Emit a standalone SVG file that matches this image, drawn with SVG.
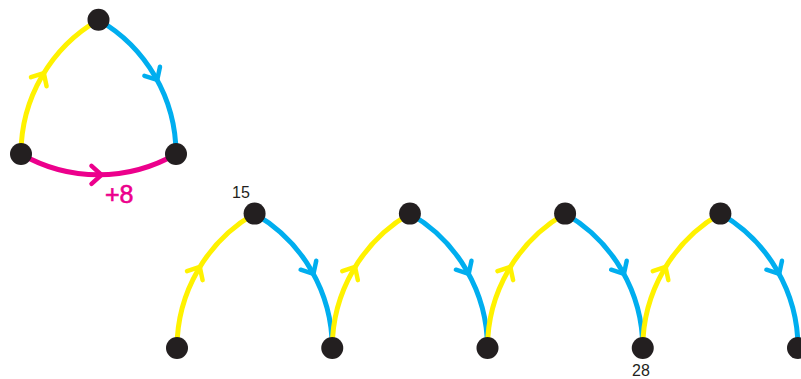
<svg xmlns="http://www.w3.org/2000/svg" width="801" height="379" viewBox="0 0 801 379">
  <style>
    .edge { fill: none; stroke-width: 5; stroke-linecap: butt; }
    .y { stroke: #FFF200; marker-mid: url(#chev-y); }
    .b { stroke: #00AEEF; marker-mid: url(#chev-b); }
    .m { stroke: #EC008C; marker-mid: url(#chev-m); }
    .node { fill: #231F20; }
    .num { font-family: "Liberation Sans", Arial, sans-serif; fill: #231F20; font-size: 16px; text-anchor: middle; }
    .gain { font-family: "Liberation Sans", Arial, sans-serif; fill: #EC008C; stroke: #EC008C; stroke-width: 0.6; font-size: 25px; }
  </style>
  <defs>
    <marker id="chev-y" markerUnits="userSpaceOnUse" markerWidth="30" markerHeight="30" viewBox="-15 -15 30 30" refX="-3" refY="0" orient="auto" overflow="visible">
      <path d="M -9 -9 L 1 0 L -9 9" fill="none" stroke="#FFF200" stroke-width="4.5" stroke-linecap="round" stroke-linejoin="round"/>
    </marker>
    <marker id="chev-b" markerUnits="userSpaceOnUse" markerWidth="30" markerHeight="30" viewBox="-15 -15 30 30" refX="-3" refY="0" orient="auto" overflow="visible">
      <path d="M -9 -9 L 1 0 L -9 9" fill="none" stroke="#00AEEF" stroke-width="4.5" stroke-linecap="round" stroke-linejoin="round"/>
    </marker>
    <marker id="chev-m" markerUnits="userSpaceOnUse" markerWidth="30" markerHeight="30" viewBox="-15 -15 30 30" refX="-2" refY="0" orient="auto" overflow="visible">
      <path d="M -9 -9 L 1 0 L -9 9" fill="none" stroke="#EC008C" stroke-width="4.5" stroke-linecap="round" stroke-linejoin="round"/>
    </marker>
  </defs>

  <!-- connectors: each arc is split at its midpoint so the chevron sits there -->
  <g id="connectors">
    <!-- triangle -->
    <path class="edge y" d="M 21 154 A 155 155 0 0 1 41.8 76.5 A 155 155 0 0 1 98.5 19.8"/>
    <path class="edge b" d="M 98.5 19.8 A 155 155 0 0 1 155.2 76.5 A 155 155 0 0 1 176 154"/>
    <path class="edge m" d="M 21 154 A 155 155 0 0 0 98.5 174.8 A 155 155 0 0 0 176 154"/>

    <!-- arches -->
    <path class="edge y" d="M 177 348 A 155.25 155.25 0 0 1 197.8 270.4 A 155.25 155.25 0 0 1 254.6 213.6"/>
    <path class="edge b" d="M 254.6 213.6 A 155.25 155.25 0 0 1 311.45 270.4 A 155.25 155.25 0 0 1 332.25 348"/>

    <path class="edge y" d="M 332.25 348 A 155.25 155.25 0 0 1 353.05 270.4 A 155.25 155.25 0 0 1 409.9 213.6"/>
    <path class="edge b" d="M 409.9 213.6 A 155.25 155.25 0 0 1 466.7 270.4 A 155.25 155.25 0 0 1 487.5 348"/>

    <path class="edge y" d="M 487.5 348 A 155.25 155.25 0 0 1 508.3 270.4 A 155.25 155.25 0 0 1 565.1 213.6"/>
    <path class="edge b" d="M 565.1 213.6 A 155.25 155.25 0 0 1 621.95 270.4 A 155.25 155.25 0 0 1 642.75 348"/>

    <path class="edge y" d="M 642.75 348 A 155.25 155.25 0 0 1 663.55 270.4 A 155.25 155.25 0 0 1 720.4 213.6"/>
    <path class="edge b" d="M 720.4 213.6 A 155.25 155.25 0 0 1 777.2 270.4 A 155.25 155.25 0 0 1 798 348"/>
  </g>

  <!-- triangle nodes -->
  <g id="tri-top"><circle class="node" cx="98.5" cy="19.8" r="11"/></g>
  <g id="tri-left"><circle class="node" cx="21" cy="154" r="11"/></g>
  <g id="tri-right"><circle class="node" cx="176" cy="154" r="11"/></g>
  <text class="gain" x="105" y="203">+8</text>

  <!-- arch nodes -->
  <g id="b0"><circle class="node" cx="177" cy="348" r="11"/></g>
  <g id="t0"><circle class="node" cx="254.6" cy="213.6" r="11"/><text class="num" x="241" y="198">15</text></g>
  <g id="b1"><circle class="node" cx="332.25" cy="348" r="11"/></g>
  <g id="t1"><circle class="node" cx="409.9" cy="213.6" r="11"/></g>
  <g id="b2"><circle class="node" cx="487.5" cy="348" r="11"/></g>
  <g id="t2"><circle class="node" cx="565.1" cy="213.6" r="11"/></g>
  <g id="b3"><circle class="node" cx="642.75" cy="348" r="11"/><text class="num" x="641" y="376">28</text></g>
  <g id="t3"><circle class="node" cx="720.4" cy="213.6" r="11"/></g>
  <g id="b4"><circle class="node" cx="798" cy="348" r="11"/></g>
</svg>
